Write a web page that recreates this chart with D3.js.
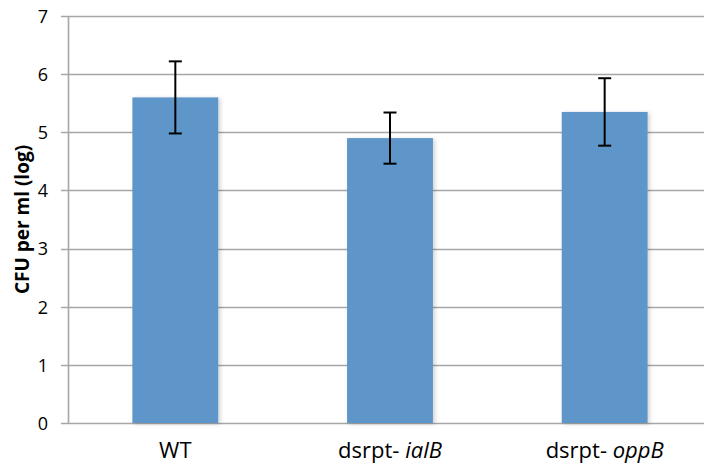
<!DOCTYPE html>
<html><head><meta charset="utf-8">
<script src="https://cdn.jsdelivr.net/npm/d3@7"></script>
<style>body{margin:0;background:#fff}svg{display:block}</style>
</head><body>
<svg id="c" width="704" height="468"></svg>
<script>
const categories = ["WT", "ialB", "oppB"];
const prefixes = ["", "dsrpt- ", "dsrpt- "];
const means = [5.6, 4.9, 5.35];
const errors = [0.62, 0.44, 0.58];
const yTicks = [0,1,2,3,4,5,6,7];

const svg = d3.select("#c");
const m = {left:68, right:-8, top:16, bottom:45};
const W = 704, H = 468;
const x = d3.scaleBand().domain(categories).range([m.left, W - m.right]).paddingInner(0.6).paddingOuter(0.3);
const y = d3.scaleLinear().domain([0,7]).range([H - m.bottom, m.top]);
const font = "'Open Sans', sans-serif";

const defs = svg.append("defs");
const f = defs.append("filter").attr("id","sh").attr("x","-10%").attr("y","-10%").attr("width","130%").attr("height","130%");
f.append("feDropShadow").attr("dx",2).attr("dy",1).attr("stdDeviation",2).attr("flood-color","#000").attr("flood-opacity",0.18);

// gridlines
svg.append("g").selectAll("line").data(yTicks).join("line")
  .attr("x1", m.left - 7).attr("x2", W)
  .attr("y1", d => Math.round(y(d)) + 0.5).attr("y2", d => Math.round(y(d)) + 0.5)
  .attr("stroke", "#a6a6a6").attr("stroke-width", 1.6);
// y axis line
svg.append("line").attr("x1", m.left + 0.5).attr("x2", m.left + 0.5)
  .attr("y1", y(7)).attr("y2", y(0)).attr("stroke", "#a6a6a6").attr("stroke-width", 1.6);

// y tick labels
const yAxis = d3.axisLeft(y).tickValues(yTicks).tickSize(0).tickPadding(20).tickFormat(d3.format("d"));
const ga = svg.append("g").attr("transform", `translate(${m.left},0)`).call(yAxis);
ga.select(".domain").remove();
ga.selectAll("text").attr("font-family", font).attr("font-size", 18).attr("fill", "#000").attr("dy","0.35em");

// bars
svg.append("g").selectAll("rect").data(categories).join("rect")
  .attr("x", d => x(d)).attr("width", x.bandwidth())
  .attr("y", (d,i) => y(means[i])).attr("height", (d,i) => y(0) - y(means[i]))
  .attr("fill", "#5f96c9").attr("filter","url(#sh)");

// error bars
const eb = svg.append("g").attr("stroke", "#000").attr("stroke-width", 2);
categories.forEach((c,i) => {
  const cx = x(c) + x.bandwidth()/2;
  const yt = y(means[i] + errors[i]), yb = y(means[i] - errors[i]);
  eb.append("line").attr("x1", cx).attr("x2", cx).attr("y1", yt).attr("y2", yb);
  eb.append("line").attr("x1", cx - 6.5).attr("x2", cx + 6.5).attr("y1", yt).attr("y2", yt);
  eb.append("line").attr("x1", cx - 6.5).attr("x2", cx + 6.5).attr("y1", yb).attr("y2", yb);
});

// x labels
const xl = svg.append("g");
categories.forEach((c,i) => {
  const t = xl.append("text").attr("x", x(c) + x.bandwidth()/2).attr("y", 458)
    .attr("text-anchor","middle").attr("font-family", font).attr("font-size", 22).attr("fill","#000");
  if (prefixes[i]) {
    t.append("tspan").text(prefixes[i]);
    t.append("tspan").attr("font-style","italic").text(c);
  } else t.text(c);
});

// y title
svg.append("text").attr("transform", `translate(28.5,${(y(0)+y(7))/2}) rotate(-90)`)
  .attr("text-anchor","middle").attr("font-family", font).attr("font-weight","bold")
  .attr("font-size", 19).attr("fill","#000").text("CFU per ml (log)");
</script>
</body></html>
